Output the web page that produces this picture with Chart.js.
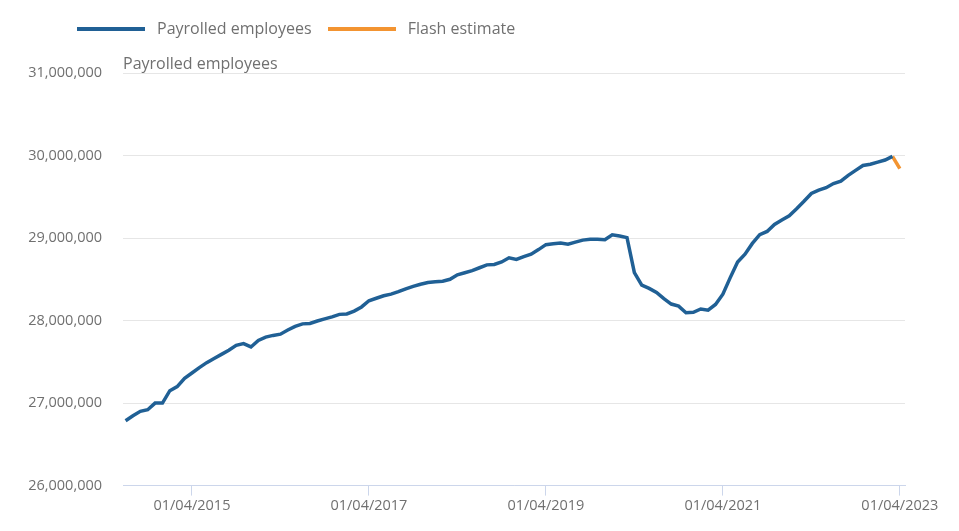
<!DOCTYPE html>
<html>
<head>
<meta charset="utf-8">
<script src="https://cdn.jsdelivr.net/npm/chart.js@4.4.0/dist/chart.umd.min.js"></script>
<style>
  html, body { margin: 0; padding: 0; background: #fff; }
  #wrap { position: relative; width: 959px; height: 531px; }
  #chart { position: absolute; left: 0; top: 0; }
  .legend { position: absolute; top: 17px; left: 77px; font: 16px "Open Sans", sans-serif; color: #707070; white-space: nowrap; }
  .legend span.item { display: inline-block; margin-right: 12px; }
  .legend i { display: inline-block; width: 68px; height: 4px; vertical-align: middle; margin-right: 12px; position: relative; top: -1px; }
</style>
</head>
<body>
<div id="wrap">
  <canvas id="chart" width="959" height="531"></canvas>
  <div class="legend">
    <span class="item"><i style="background:#206095"></i>Payrolled employees</span>
    <span class="item"><i style="background:#f39431"></i>Flash estimate</span>
  </div>
</div>
<script>
// Monthly series, starting July 2014
const firstMonth = '2014-07';
const payrolled = [
  26786000, 26847000, 26900000, 26920000, 27000000, 27000000, 27150000, 27200000, 27300000, 27365000,
  27430000, 27490000, 27540000, 27590000, 27640000, 27700000, 27720000, 27680000, 27760000, 27800000,
  27820000, 27835000, 27885000, 27930000, 27960000, 27965000, 27995000, 28020000, 28045000, 28075000,
  28080000, 28115000, 28165000, 28240000, 28270000, 28300000, 28320000, 28350000, 28385000, 28415000,
  28440000, 28460000, 28470000, 28477000, 28500000, 28555000, 28580000, 28605000, 28640000, 28675000,
  28680000, 28710000, 28760000, 28740000, 28776000, 28805000, 28860000, 28920000, 28930000, 28940000,
  28925000, 28950000, 28975000, 28985000, 28985000, 28980000, 29040000, 29025000, 29005000, 28580000,
  28430000, 28390000, 28340000, 28265000, 28200000, 28175000, 28095000, 28100000, 28140000, 28125000,
  28195000, 28320000, 28520000, 28710000, 28805000, 28935000, 29040000, 29080000, 29165000, 29220000,
  29270000, 29355000, 29445000, 29540000, 29580000, 29610000, 29660000, 29690000, 29760000, 29820000,
  29880000, 29895000, 29920000, 29945000, 29990000
];
const flashMonths = ['2023-03', '2023-04'];
const flashValues = [29990000, 29840000];

const xTickMonths = ['2015-04', '2017-04', '2019-04', '2021-04', '2023-04'];
const yTicks = [26000000, 27000000, 28000000, 29000000, 30000000, 31000000];

const axisTitle = 'Payrolled employees';

// months since firstMonth
function monthIndex(s) {
    const [y, m] = s.split('-').map(Number);
    const [y0, m0] = firstMonth.split('-').map(Number);
    return (y - y0) * 12 + (m - m0);
}

function monthLabel(idx) {
    const [y0, m0] = firstMonth.split('-').map(Number);
    const total = y0 * 12 + (m0 - 1) + idx;
    const y = Math.floor(total / 12);
    const m = total % 12 + 1;
    return '01/' + String(m).padStart(2, '0') + '/' + y;
}

const textColor = '#707070';
const font = 'Open Sans';

// draws the "Payrolled employees" caption above the plot
const yTitlePlugin = {
    id: 'yTitle',
    afterDraw(chart) {
        const ctx = chart.ctx;
        ctx.save();
        ctx.font = '16px "' + font + '"';
        ctx.fillStyle = textColor;
        ctx.textAlign = 'left';
        ctx.textBaseline = 'alphabetic';
        ctx.fillText(axisTitle, chart.chartArea.left, chart.chartArea.top - 4);
        ctx.restore();
    }
};

const ctx = document.getElementById('chart').getContext('2d');
new Chart(ctx, {
    type: 'line',
    data: {
        datasets: [
            {
                label: 'Payrolled employees',
                data: payrolled.map((v, i) => ({ x: i, y: v })),
                borderColor: '#206095',
                borderWidth: 3.5,
                pointRadius: 0,
                tension: 0,
                fill: false
            },
            {
                label: 'Flash estimate',
                data: flashMonths.map((m, i) => ({ x: monthIndex(m), y: flashValues[i] })),
                borderColor: '#f39431',
                borderWidth: 3.5,
                pointRadius: 0,
                tension: 0,
                fill: false
            }
        ]
    },
    options: {
        responsive: false,
        animation: false,
        layout: { padding: { top: 73, right: 54, bottom: 14, left: 0 } },
        plugins: {
            legend: { display: false },
            tooltip: { enabled: false }
        },
        scales: {
            x: {
                type: 'linear',
                min: -0.35,
                max: 105.7,
                afterBuildTicks: scale => {
                    scale.ticks = xTickMonths.map(m => ({ value: monthIndex(m) }));
                },
                ticks: {
                    autoSkip: false,
                    maxRotation: 0,
                    padding: 2,
                    color: textColor,
                    font: { family: font, size: 14.5 },
                    callback: v => monthLabel(v)
                },
                grid: {
                    drawOnChartArea: false,
                    drawTicks: true,
                    tickLength: 10,
                    color: '#ccd6eb'
                },
                border: { display: true, color: '#ccd6eb', width: 1 }
            },
            y: {
                min: 26000000,
                max: 31000000,
                afterBuildTicks: scale => {
                    scale.ticks = yTicks.map(v => ({ value: v }));
                },
                afterFit: scale => { scale.width = 123; },
                ticks: {
                    padding: 21,
                    color: textColor,
                    font: { family: font, size: 14.5 },
                    callback: v => v.toLocaleString('en-GB')
                },
                grid: {
                    color: '#e6e6e6',
                    drawTicks: false
                },
                border: { display: false }
            }
        }
    },
    plugins: [yTitlePlugin]
});
</script>
</body>
</html>
